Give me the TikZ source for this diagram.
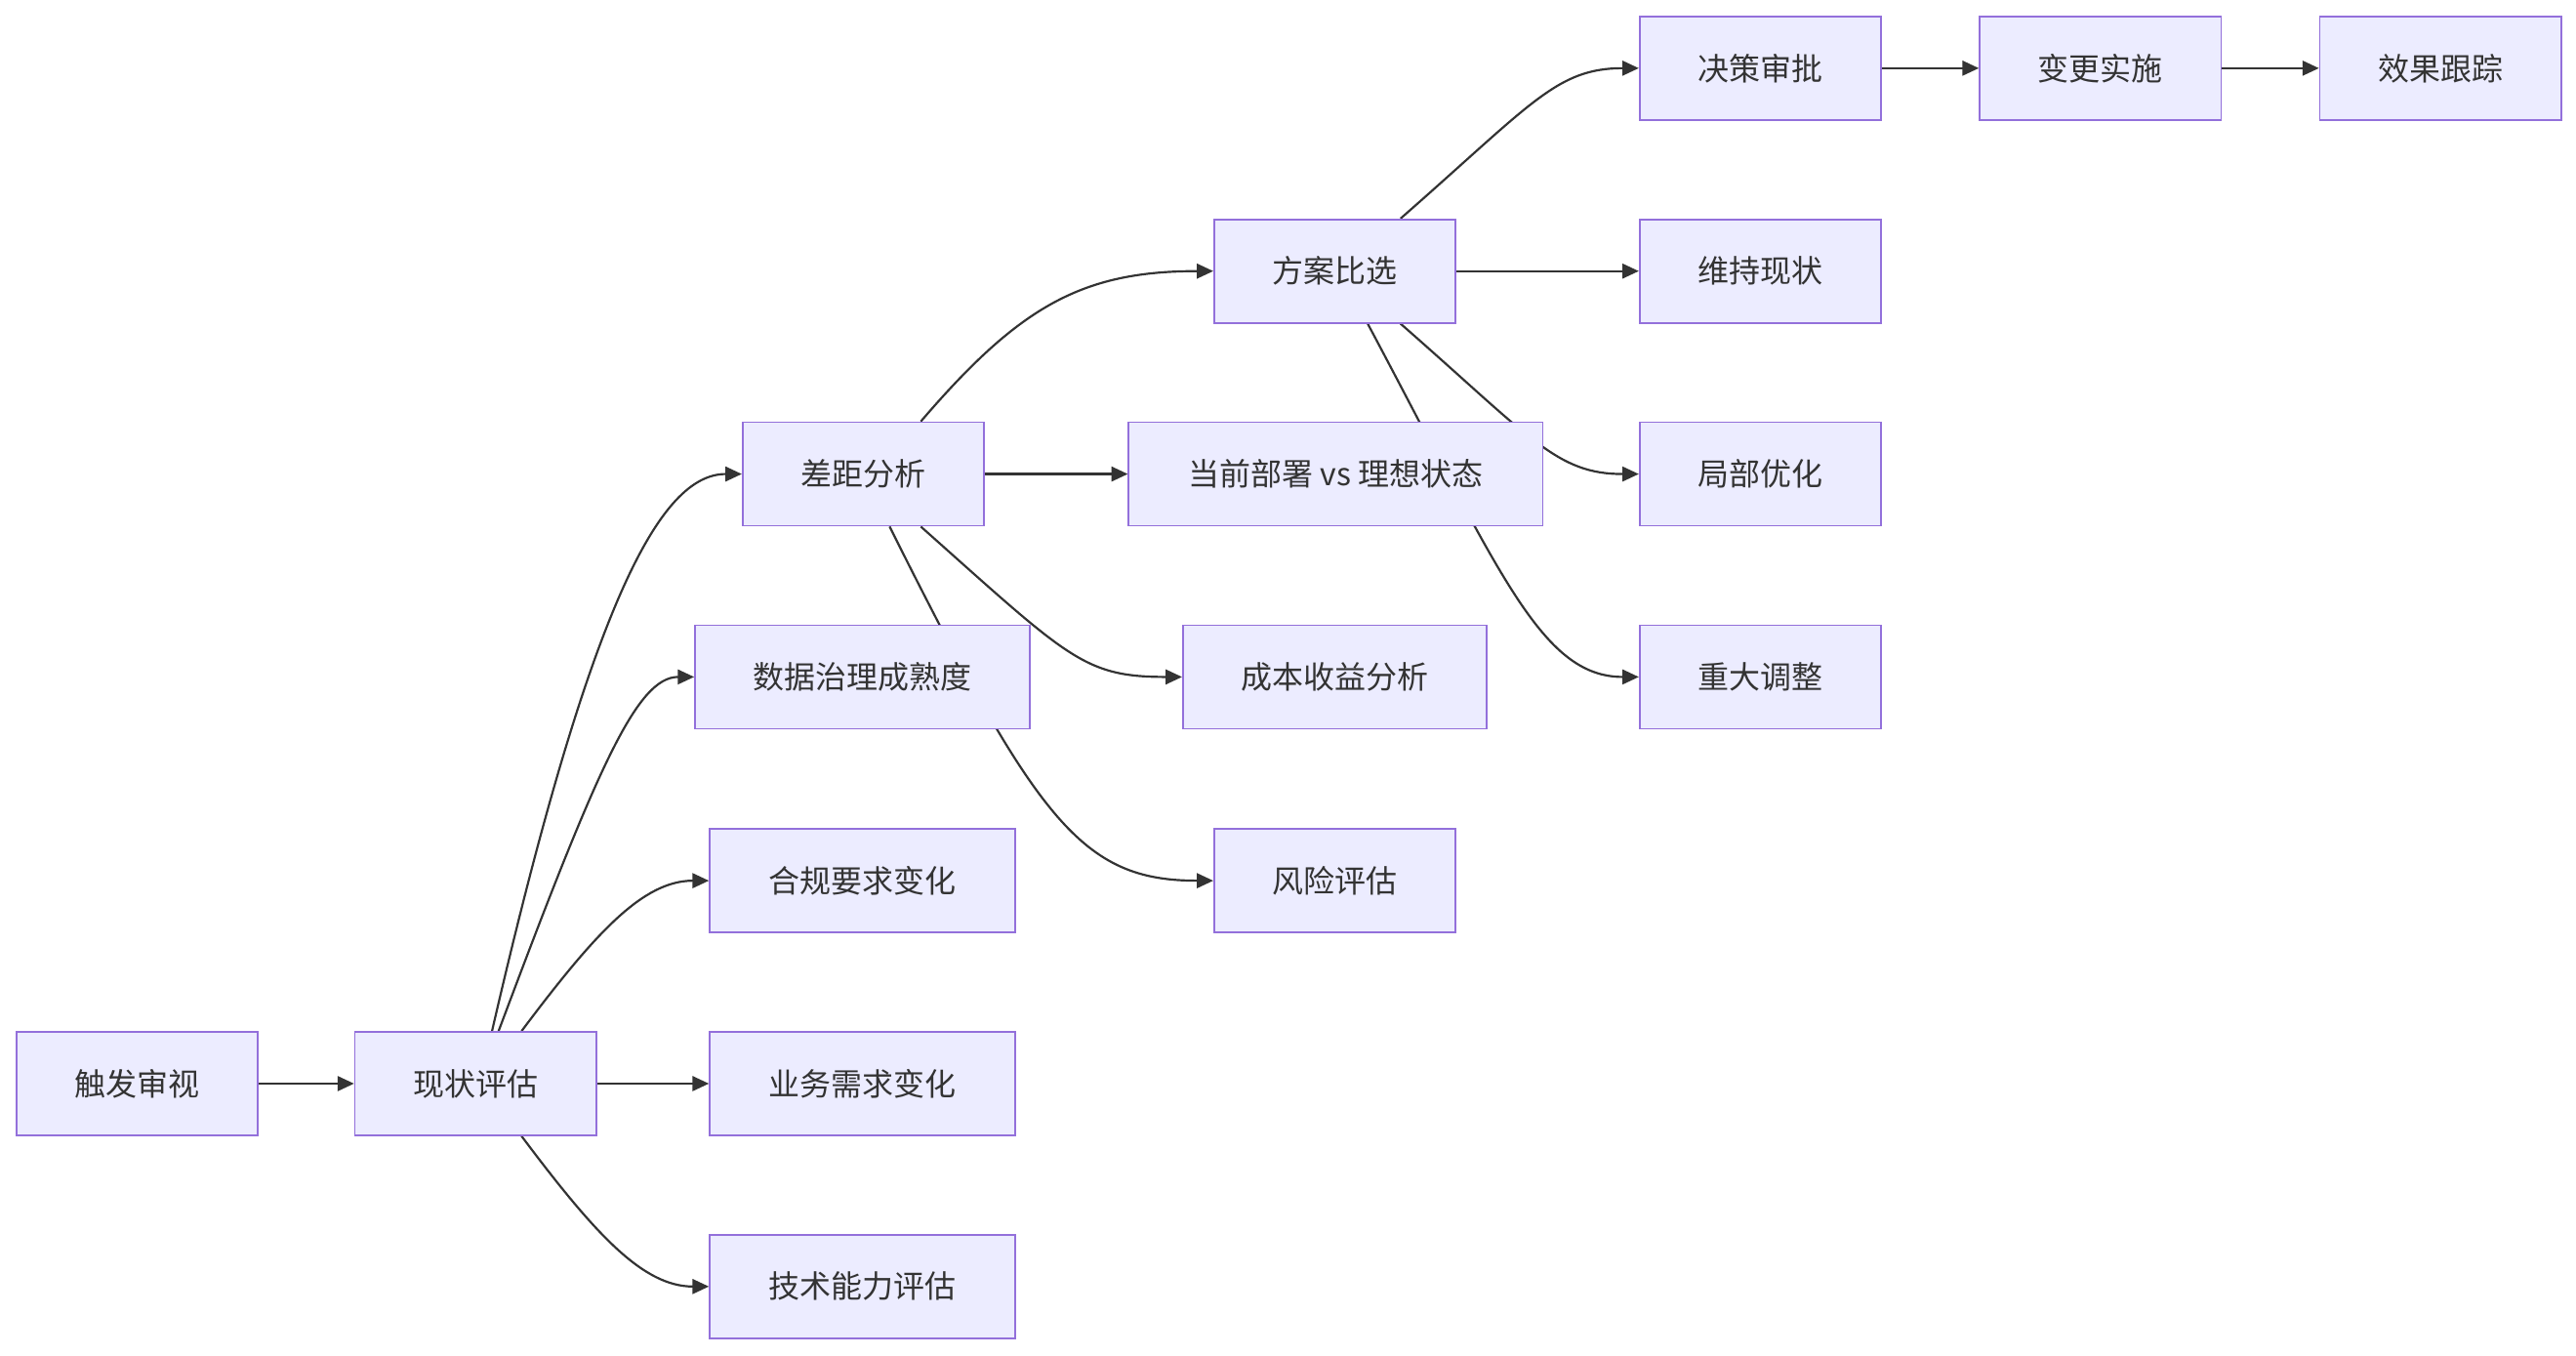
\documentclass[tikz,border=0pt]{standalone}
\usepackage{fontspec}
\setmainfont{Noto Sans CJK SC}
\usetikzlibrary{arrows.meta,backgrounds}
\definecolor{nfill}{HTML}{ECECFF}
\definecolor{nline}{HTML}{9370DB}
\definecolor{ink}{HTML}{333333}
\begin{document}
\begin{tikzpicture}[x=1pt,y=-1pt,
  box/.style={draw=nline,fill=nfill,line width=1pt,minimum height=63pt,text=ink,font=\fontsize{19}{22}\selectfont,inner sep=0pt},
  edge/.style={draw=ink,line width=1.3pt,-{Triangle[length=10pt,width=9pt]}}]
\useasboundingbox (0,0) rectangle (1568,825);
\node[box,minimum width=147pt] (cf) at (83.5,659.5) {触发审视};
\node[box,minimum width=147pt] (xz) at (289.5,659.5) {现状评估};
\node[box,minimum width=186pt] (hg) at (525,536) {合规要求变化};
\node[box,minimum width=186pt] (yw) at (525,659.5) {业务需求变化};
\node[box,minimum width=186pt] (js) at (525,783) {技术能力评估};
\node[box,minimum width=204pt] (sj) at (525,412) {数据治理成熟度};
\node[box,minimum width=147pt] (cj) at (525.5,288.5) {差距分析};
\node[box,minimum width=252pt] (dq) at (813,288.5) {当前部署 vs 理想状态};
\node[box,minimum width=185pt] (cb) at (812.5,412) {成本收益分析};
\node[box,minimum width=147pt] (fx) at (812.5,536) {风险评估};
\node[box,minimum width=147pt] (fa) at (812.5,165) {方案比选};
\node[box,minimum width=147pt] (jc) at (1071.5,41.5) {决策审批};
\node[box,minimum width=147pt] (wc) at (1071.5,165) {维持现状};
\node[box,minimum width=147pt] (jb) at (1071.5,288.5) {局部优化};
\node[box,minimum width=147pt] (zd) at (1071.5,412) {重大调整};
\node[box,minimum width=147pt] (bg) at (1278.5,41.5) {变更实施};
\node[box,minimum width=147pt] (xg) at (1485.5,41.5) {效果跟踪};
\begin{scope}[on background layer]
\path[edge] (cf.east) -- (xz.west);
\path[edge] ([xshift=10]xz.north) .. controls +(60,-260) and +(-50,0) .. (cj.west);
\path[edge] ([xshift=14]xz.north) .. controls +(60,-160) and +(-35,0) .. (sj.west);
\path[edge] ([xshift=28]xz.north) .. controls +(45,-60) and +(-40,0) .. (hg.west);
\path[edge] (xz.east) -- (yw.west);
\path[edge] ([xshift=28]xz.south) .. controls +(45,60) and +(-40,0) .. (js.west);
\path[edge] (cj.east) -- (dq.west);
\path[edge] ([xshift=35]cj.south) .. controls +(90,80) and +(-60,0) .. (cb.west);
\path[edge] ([xshift=16]cj.south) .. controls +(90,180) and +(-80,0) .. (fx.west);
\path[edge] ([xshift=35]cj.north) .. controls +(60,-70) and +(-80,0) .. (fa.west);
\path[edge] ([xshift=40]fa.north) .. controls +(80,-70) and +(-50,0) .. (jc.west);
\path[edge] (fa.east) -- (wc.west);
\path[edge] ([xshift=40]fa.south) .. controls +(80,70) and +(-50,0) .. (jb.west);
\path[edge] ([xshift=20]fa.south) .. controls +(80,150) and +(-60,0) .. (zd.west);
\path[edge] (jc.east) -- (bg.west);
\path[edge] (bg.east) -- (xg.west);
\end{scope}
\end{tikzpicture}
\end{document}
